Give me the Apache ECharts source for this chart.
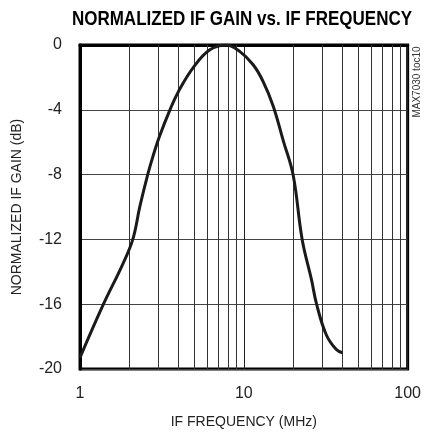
<!DOCTYPE html>
<html>
<head>
<meta charset="utf-8">
<script src="https://cdn.jsdelivr.net/npm/echarts@6/dist/echarts.min.js"></script>
<style>
html,body{margin:0;padding:0;background:#fff;}
#c{width:424px;height:434px;}
</style>
</head>
<body>
<div id="c"></div>
<script>
var freqMHz = [1.0, 1.39, 1.81, 2.10, 2.32, 2.59, 2.80, 3.07, 3.54, 4.0, 4.91, 6.2, 7.8, 9.47, 11.4, 13.1, 15.1, 17.4, 20, 22.7, 25.9, 27.8, 31.9, 36.7, 40];
var gainDb = [-19.3, -16.0, -13.6, -12.0, -9.96, -8.0, -6.81, -5.59, -4.0, -2.85, -1.4, -0.30, 0.0, -0.41, -1.22, -2.24, -3.76, -5.9, -8.03, -12.0, -14.5, -16.0, -17.9, -18.8, -19.0];
var minorGridX = [2, 3, 4, 5, 6, 7, 8, 9, 20, 30, 40, 50, 60, 70, 80, 90];
var titleText = 'NORMALIZED IF GAIN vs. IF FREQUENCY';
var xName = 'IF FREQUENCY (MHz)';
var yName = 'NORMALIZED IF GAIN (dB)';
var sideNote = 'MAX7030 toc10';

var FONT = '"Liberation Sans", Arial, sans-serif';
var chart = echarts.init(document.getElementById('c'));
var data = freqMHz.map(function (f, i) { return [f, gainDb[i]]; });
chart.setOption({
  animation: false,
  grid: {left: 80, right: 16, top: 45, bottom: 61, show: true, borderColor: '#000', borderWidth: 3, backgroundColor: 'transparent'},
  xAxis: {
    type: 'log', logBase: 10, min: 1, max: 100,
    name: xName, nameLocation: 'middle', nameGap: 46,
    nameTextStyle: {fontFamily: FONT, fontSize: 14, color: '#222'},
    axisLine: {show: true, lineStyle: {color: '#000', width: 3}},
    axisTick: {show: false},
    axisLabel: {fontFamily: FONT, fontSize: 16, color: '#222', margin: 17},
    splitLine: {show: true, lineStyle: {color: '#222', width: 1}}
  },
  yAxis: {
    type: 'value', min: -20, max: 0, interval: 4,
    name: yName, nameLocation: 'middle', nameGap: 56, nameRotate: 90,
    nameTextStyle: {fontFamily: FONT, fontSize: 14, color: '#222'},
    axisLine: {show: true, lineStyle: {color: '#000', width: 3}},
    axisTick: {show: false},
    axisLabel: {fontFamily: FONT, fontSize: 16, color: '#222', margin: 18},
    splitLine: {show: true, lineStyle: {color: '#444', width: 1}}
  },
  graphic: [{
    type: 'text', x: 242, y: 19, scaleX: 0.81,
    style: {text: titleText, fontFamily: FONT, fontWeight: 'bold', fontSize: 21, fill: '#000', align: 'center', verticalAlign: 'middle'}
  }, {
    type: 'text', x: 417, y: 82, rotation: Math.PI / 2,
    style: {text: sideNote, fontFamily: FONT, fontSize: 10, fill: '#333', align: 'center', verticalAlign: 'middle'}
  }],
  series: [{
    type: 'line', data: data, smooth: 0.4, symbol: 'none',
    lineStyle: {color: '#1a1a1a', width: 3},
    z: 5,
    markLine: {
      silent: true, symbol: 'none', label: {show: false},
      lineStyle: {color: '#333', width: 1, type: 'solid'},
      data: minorGridX.map(function (v) { return {xAxis: v}; })
    }
  }]
});
</script>
</body>
</html>
